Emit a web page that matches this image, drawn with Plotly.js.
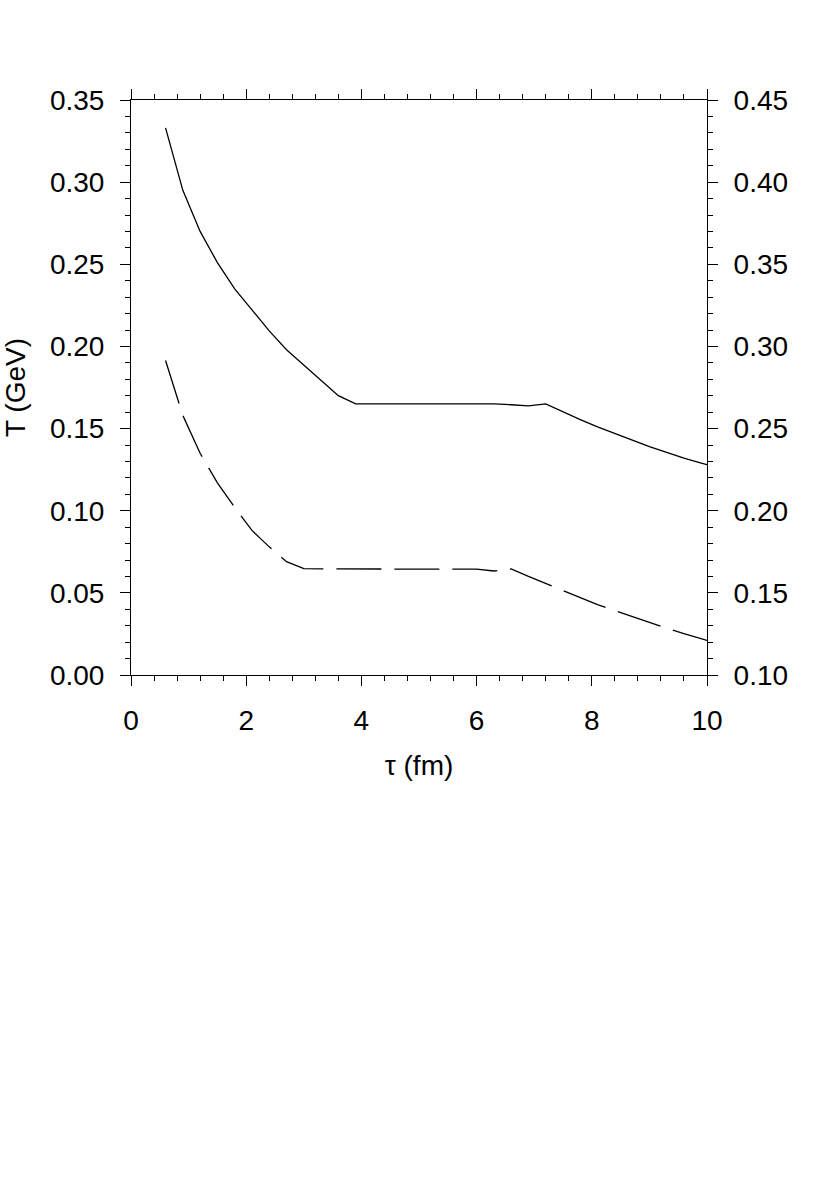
<!DOCTYPE html>
<html>
<head>
<meta charset="utf-8">
<script src="https://cdn.plot.ly/plotly-3.0.1.min.js"></script>
<style>
  html, body { margin: 0; padding: 0; background: #ffffff; }
  #plot { width: 822px; height: 1183px; }
</style>
</head>
<body>
<div id="plot"></div>
<script>
// solid curve, left axis T (GeV)
const tauSolid = [0.6, 0.9, 1.2, 1.5, 1.8, 2.1, 2.4, 2.7, 3.0, 3.3, 3.6, 3.9, 4.5, 5.0, 5.5, 6.0, 6.3, 6.6, 6.9, 7.2, 7.5, 7.8, 8.1, 8.4, 8.7, 9.0, 9.3, 9.6, 9.9, 10.0];
const tSolid = [0.333, 0.295, 0.270, 0.251, 0.235, 0.222, 0.2095, 0.198, 0.1885, 0.179, 0.170, 0.165, 0.165, 0.165, 0.165, 0.165, 0.165, 0.1645, 0.1638, 0.165, 0.160, 0.1555, 0.151, 0.147, 0.1428, 0.139, 0.1355, 0.132, 0.129, 0.128];

// dashed curve, right axis
const tauDashed = [0.6, 0.9, 1.2, 1.5, 1.8, 2.1, 2.4, 2.7, 3.0, 3.5, 4.0, 4.5, 5.0, 5.5, 6.0, 6.3, 6.6, 6.9, 7.2, 7.5, 7.8, 8.1, 8.4, 8.7, 9.0, 9.3, 9.6, 9.9, 10.0];
const tDashed = [0.2914, 0.258, 0.235, 0.217, 0.202, 0.188, 0.178, 0.169, 0.1647, 0.1645, 0.1645, 0.1645, 0.1645, 0.1645, 0.1645, 0.1633, 0.1646, 0.160, 0.1558, 0.1515, 0.147, 0.1428, 0.1392, 0.1355, 0.132, 0.1285, 0.1252, 0.122, 0.121];

const xTickVals = [0, 2, 4, 6, 8, 10];

const FONT = "Liberation Sans, Arial, Helvetica, sans-serif";

const solid = {
  type: "scatter",
  mode: "lines",
  x: tauSolid,
  y: tSolid,
  yaxis: "y",
  line: { color: "#000000", width: 1.3 },
  showlegend: false,
};

const dashed = {
  type: "scatter",
  mode: "lines",
  x: tauDashed,
  y: tDashed,
  yaxis: "y2",
  line: { color: "#000000", width: 1.3, dash: "45px,13px" },
  showlegend: false,
};

const axisCommon = {
  showline: true,
  linecolor: "#000000",
  linewidth: 1,
  showgrid: false,
  zeroline: false,
  ticks: "outside",
  ticklen: 10,
  tickwidth: 1,
  tickcolor: "#000000",
  tickfont: { family: FONT, size: 28, color: "#000000" },
};

const layout = {
  width: 822,
  height: 1183,
  paper_bgcolor: "#ffffff",
  plot_bgcolor: "#ffffff",
  margin: { l: 131, r: 115, t: 100, b: 508 },
  font: { family: FONT, color: "#000000" },
  xaxis: {
    ...axisCommon,
    range: [0, 10],
    tickvals: xTickVals,
    mirror: "ticks",
    ticklabelstandoff: 10,
    minor: { dtick: 0.4, ticklen: 5, ticks: "outside", tickcolor: "#000000", tickwidth: 1 },
    title: { text: "τ (fm)", font: { family: FONT, size: 28 }, standoff: 20 },
  },
  yaxis: {
    ...axisCommon,
    range: [0, 0.35],
    dtick: 0.05,
    tick0: 0,
    tickformat: ".2f",
    ticklabelstandoff: 10,
    minor: { dtick: 0.01, ticklen: 5, ticks: "outside", tickcolor: "#000000", tickwidth: 1 },
    title: { text: "T (GeV)", font: { family: FONT, size: 28 }, standoff: 16 },
  },
  yaxis2: {
    ...axisCommon,
    overlaying: "y",
    side: "right",
    range: [0.1, 0.45],
    dtick: 0.05,
    tick0: 0.1,
    tickformat: ".2f",
    ticklabelstandoff: 10,
    minor: { dtick: 0.01, ticklen: 5, ticks: "outside", tickcolor: "#000000", tickwidth: 1 },
  },
};

Plotly.newPlot("plot", [solid, dashed], layout, { staticPlot: true });
</script>
</body>
</html>
